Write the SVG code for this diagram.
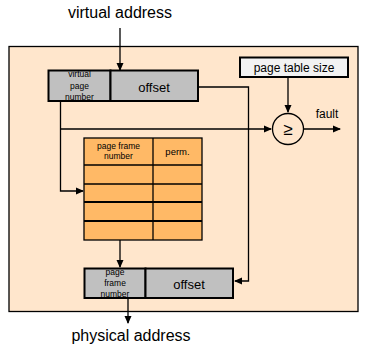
<svg xmlns="http://www.w3.org/2000/svg" width="367" height="345" viewBox="0 0 367 345">
<style>
text{font-family:"Liberation Sans",Arial,sans-serif;fill:#000}
.big{font-size:16px}
.mid{font-size:13px}
.sm{font-size:8.5px}
.ln{stroke:#000;stroke-width:1.3;fill:none}
.gray{fill:#c0c0c0;stroke:#000;stroke-width:2}
.tbl{fill:#ffb966;stroke:#000;stroke-width:1.3}
</style>
<defs>
<marker id="ah" markerWidth="8" markerHeight="8" refX="7" refY="4" orient="auto" markerUnits="userSpaceOnUse">
<path d="M0,0.5 L8,4 L0,7.5 Z" fill="#000"/>
</marker>
</defs>
<rect x="0" y="0" width="367" height="345" fill="#fff"/>
<g id="container">
<rect x="9" y="46.5" width="349" height="265" fill="#ffe6cc" stroke="#000" stroke-width="1.3"/>
</g>
<text class="big" x="120" y="18" text-anchor="middle">virtual address</text>
<text class="big" x="131" y="341" text-anchor="middle">physical address</text>
<g id="connectors">
<path class="ln" d="M120,28 V70" marker-end="url(#ah)"/>
<path class="ln" d="M198,87 H248.5 V281 H235" marker-end="url(#ah)"/>
<path class="ln" d="M60.5,101 V191 H83" marker-end="url(#ah)"/>
<path class="ln" d="M60.5,129 H271" marker-end="url(#ah)"/>
<path class="ln" d="M288,77 V112" marker-end="url(#ah)"/>
<path class="ln" d="M304,129 H340" marker-end="url(#ah)"/>
<path class="ln" d="M120,195 V267" marker-end="url(#ah)"/>
<path class="ln" d="M128,298 V323" marker-end="url(#ah)"/>
</g>
<g id="virtual-address-reg">
<rect class="gray" x="48.5" y="70.5" width="62" height="30.5"/>
<rect class="gray" x="110.5" y="70.5" width="87.5" height="30.5"/>
<text class="sm" x="79.5" y="77" text-anchor="middle">virtual</text>
<text class="sm" x="79.5" y="88.5" text-anchor="middle">page</text>
<text class="sm" x="79.5" y="100" text-anchor="middle">number</text>
<text class="mid" x="154" y="92" text-anchor="middle">offset</text>
</g>
<g id="page-table-size">
<rect x="240" y="57.5" width="108" height="19.5" fill="#f2f2f2" stroke="#000" stroke-width="2"/>
<text x="294" y="72" font-size="12" text-anchor="middle">page table size</text>
</g>
<g id="comparator">
<circle cx="288" cy="129" r="15.5" fill="#ffe6cc" stroke="#000" stroke-width="1.3"/>
<text x="288" y="135" font-size="17" text-anchor="middle">≥</text>
<text x="327" y="118" font-size="12" text-anchor="middle">fault</text>
</g>
<g id="page-table">
<rect class="tbl" x="84" y="138" width="118" height="102"/>
<line class="ln" x1="153" y1="138" x2="153" y2="240"/>
<line class="ln" x1="84" y1="165" x2="202" y2="165"/>
<line class="ln" x1="84" y1="184" x2="202" y2="184"/>
<line stroke="#000" stroke-width="2" x1="84" y1="202" x2="202" y2="202"/>
<line stroke="#000" stroke-width="2" x1="84" y1="221" x2="202" y2="221"/>
<text class="sm" x="118.5" y="148.5" text-anchor="middle">page frame</text>
<text class="sm" x="118.5" y="159" text-anchor="middle">number</text>
<text x="177.5" y="155" font-size="9.5" text-anchor="middle">perm.</text>
</g>
<g id="physical-address-reg">
<rect class="gray" x="84.5" y="268.5" width="61" height="29.5"/>
<rect class="gray" x="145.5" y="268.5" width="87.5" height="29.5"/>
<text class="sm" x="115" y="275" text-anchor="middle">page</text>
<text class="sm" x="115" y="286" text-anchor="middle">frame</text>
<text class="sm" x="115" y="297" text-anchor="middle">number</text>
<text class="mid" x="189" y="289" text-anchor="middle">offset</text>
</g>
</svg>
